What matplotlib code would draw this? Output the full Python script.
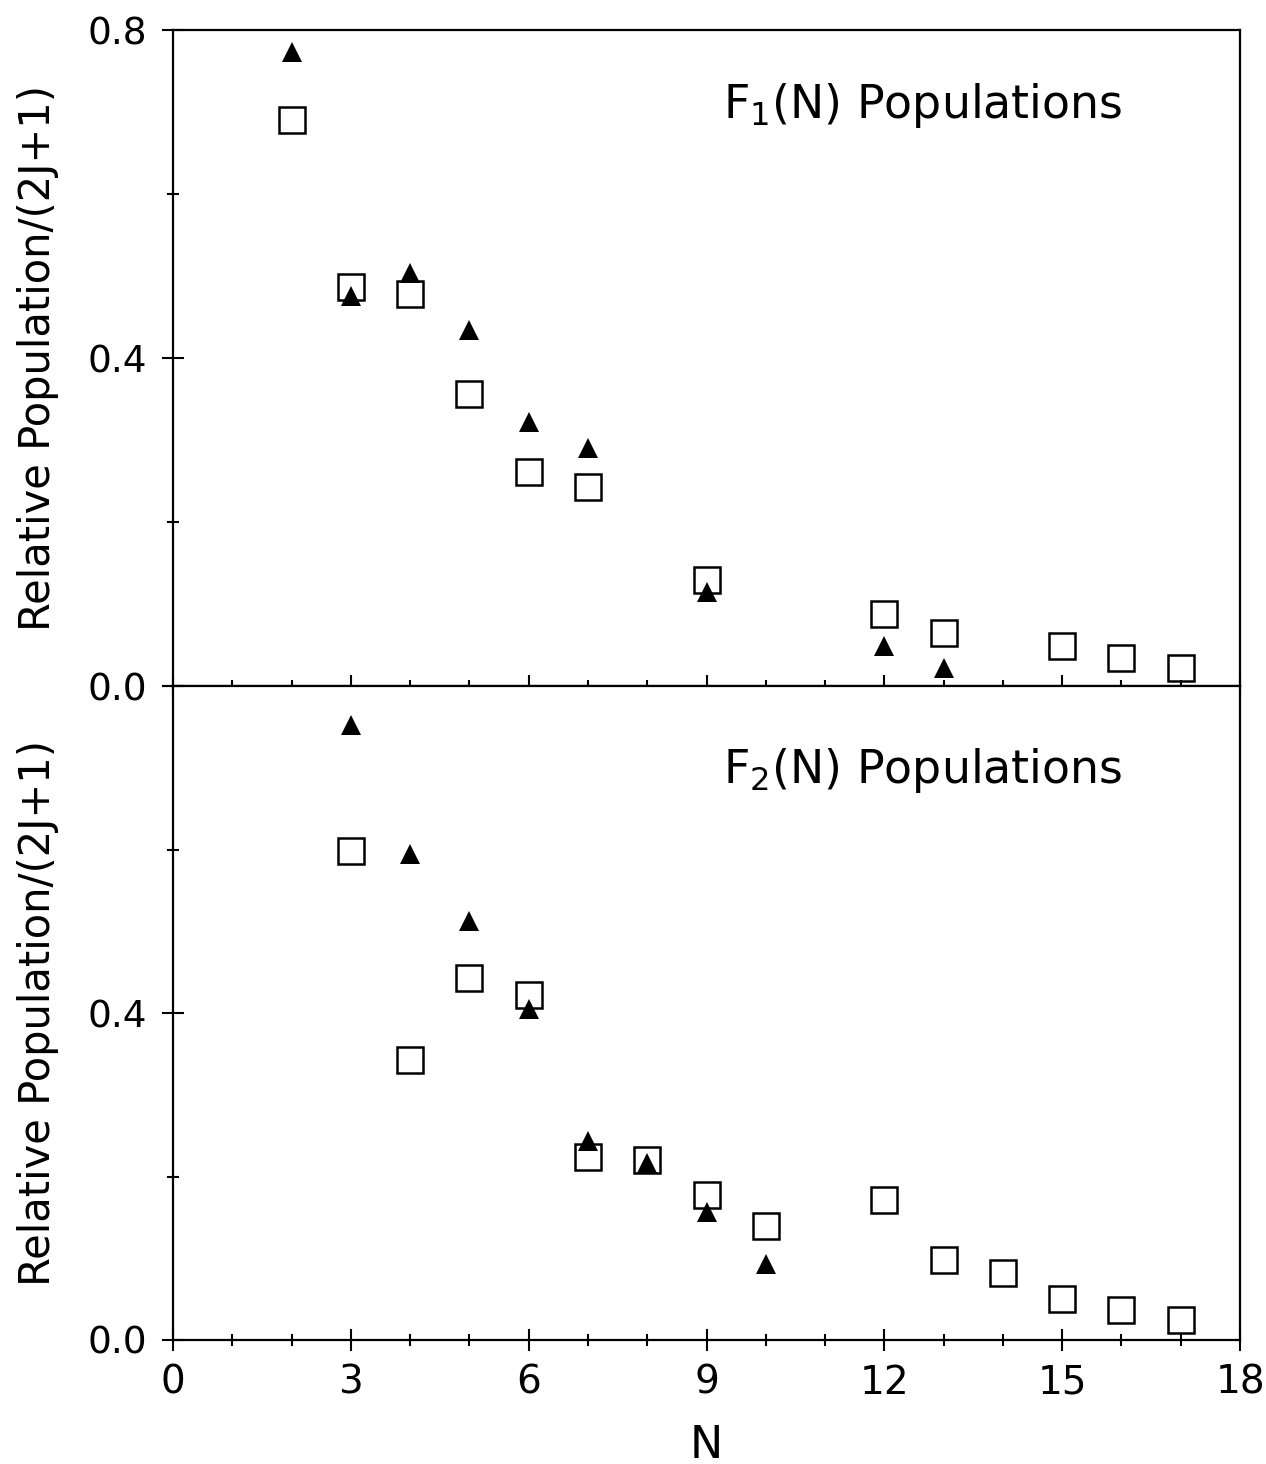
import numpy as np
import matplotlib
matplotlib.use("Agg")
import matplotlib.pyplot as plt
from matplotlib.ticker import MultipleLocator

plt.rcParams["font.family"] = "DejaVu Sans"
plt.rcParams["mathtext.default"] = "regular"

# -------------------
# DATA
# -------------------
# F1(N)
f1_sq_n = [2, 3, 4, 5, 6, 7, 9, 12, 13, 15, 16, 17]
f1_sq_pop = [0.690, 0.487, 0.478, 0.356, 0.261, 0.243, 0.129, 0.088, 0.065, 0.049, 0.034, 0.022]
f1_tri_n = [2, 3, 4, 5, 6, 7, 9, 12, 13]
f1_tri_pop = [0.773, 0.476, 0.504, 0.434, 0.322, 0.290, 0.115, 0.049, 0.022]

# F2(N)
f2_sq_n = [3, 4, 5, 6, 7, 8, 9, 10, 12, 13, 14, 15, 16, 17]
f2_sq_pop = [0.598, 0.343, 0.443, 0.422, 0.224, 0.220, 0.177, 0.140, 0.171, 0.098, 0.082, 0.050, 0.037, 0.024]
f2_tri_n = [3, 4, 5, 6, 7, 8, 9, 10]
f2_tri_pop = [0.752, 0.595, 0.512, 0.405, 0.243, 0.216, 0.157, 0.093]

panels = [
    (f1_sq_n, f1_sq_pop, f1_tri_n, f1_tri_pop, "F$_1$(N) Populations", 0.866),
    (f2_sq_n, f2_sq_pop, f2_tri_n, f2_tri_pop, "F$_2$(N) Populations", 0.852),
]

# -------------------
# FIGURE
# -------------------
fig = plt.figure(figsize=(12.66, 14.64), dpi=100)
ax_top = fig.add_axes([0.1367, 0.5314, 0.8428, 0.4481])
ax_bot = fig.add_axes([0.1367, 0.0847, 0.8428, 0.4467], sharex=ax_top)

for ax, (sq_n, sq_pop, tri_n, tri_pop, title, ty) in zip([ax_top, ax_bot], panels):
    ax.plot(tri_n, tri_pop, "^", color="black", ms=15, mew=0)
    ax.plot(sq_n, sq_pop, "s", mfc="none", mec="black", ms=19, mew=1.8)

    ax.set_xlim(0, 18)
    ax.set_ylim(0, 0.8)
    ax.xaxis.set_major_locator(MultipleLocator(3))
    ax.xaxis.set_minor_locator(MultipleLocator(1))
    ax.yaxis.set_major_locator(MultipleLocator(0.4))
    ax.yaxis.set_minor_locator(MultipleLocator(0.2))
    ax.tick_params(which="both", direction="inout", top=False, right=False, width=1.5)
    ax.tick_params(which="major", length=16)
    ax.tick_params(which="minor", length=9)
    ax.tick_params(axis="y", labelsize=27, pad=11)
    ax.tick_params(axis="x", labelsize=28, pad=9)
    for s in ax.spines.values():
        s.set_linewidth(1.6)

    ax.set_ylabel("Relative Population/(2J+1)", fontsize=30)
    ax.yaxis.set_label_coords(-0.107, 0.5)
    ax.text(0.515, ty, title, transform=ax.transAxes, ha="left", va="baseline",
            fontsize=33)

ax_top.yaxis.set_major_formatter(plt.FormatStrFormatter("%.1f"))
ax_bot.set_yticks([0.0, 0.4, 0.8])
ax_bot.set_yticklabels(["0.0", "0.4", ""])
plt.setp(ax_top.get_xticklabels(), visible=False)
ax_bot.set_xlabel("N", fontsize=32)
ax_bot.xaxis.set_label_coords(0.5, -0.128)

fig.savefig("out.png", dpi=100)
